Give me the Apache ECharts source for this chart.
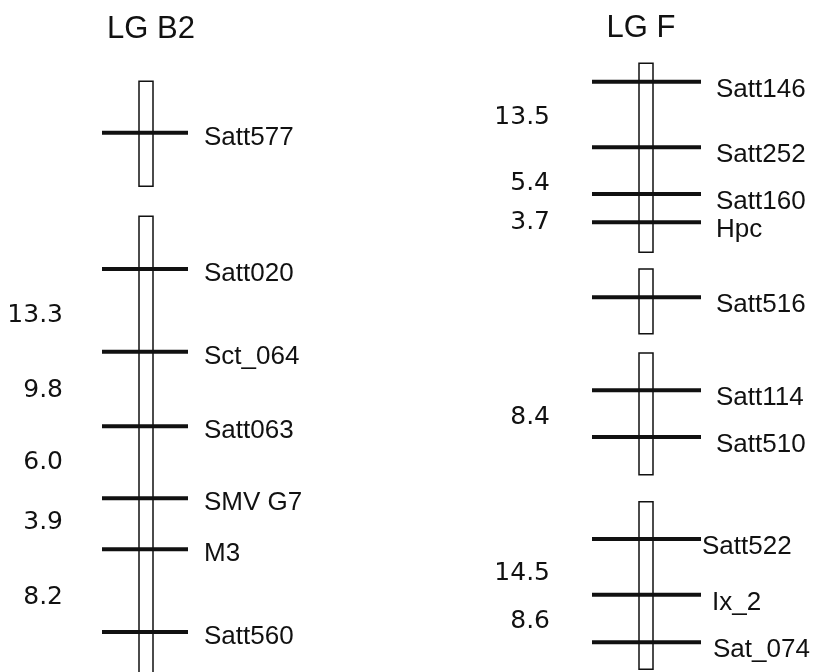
<!DOCTYPE html>
<html>
<head>
<meta charset="utf-8">
<script src="https://cdn.jsdelivr.net/npm/echarts@6/dist/echarts.min.js"></script>
<style>
  html, body { margin: 0; padding: 0; background: #fff; }
  #chart { width: 816px; height: 672px; }
</style>
</head>
<body>
<div id="chart"></div>
<script>
// linkage groups
const groups = ['LG B2', 'LG F'];

// LG B2 (map position, top = 0)
const b2Segments = [[3.2, 20.7], [25.7, 106]];
const b2Markers = ['Satt577', 'Satt020', 'Sct_064', 'Satt063', 'SMV G7', 'M3', 'Satt560'];
const b2MarkerPos = [11.8, 34.5, 48.3, 60.7, 72.7, 81.2, 95.0];
const b2Distances = ['13.3', '9.8', '6.0', '3.9', '8.2'];
const b2DistancePos = [42.2, 54.7, 66.7, 76.8, 89.2];

// LG F
const fSegments = [[0.2, 31.7], [34.5, 45.3], [48.5, 68.8], [73.3, 101.2]];
const fMarkers = ['Satt146', 'Satt252', 'Satt160', 'Hpc', 'Satt516', 'Satt114', 'Satt510', 'Satt522', 'Ix_2', 'Sat_074'];
const fMarkerPos = [3.3, 14.2, 22.0, 26.7, 39.2, 54.7, 62.5, 79.5, 88.8, 96.7];
const fDistances = ['13.5', '5.4', '3.7', '8.4', '14.5', '8.6'];
const fDistancePos = [9.3, 20.2, 26.7, 59.2, 85.2, 93.3];

// drawing styles per group (pixels)
const groupStyle = [
  { half: 7, lineL: -44, lineR: 42, labelX: 58, labelDy: 5, distX: -83 },
  { half: 7, lineL: -54, lineR: 55, labelX: 70, labelDy: 8, distX: -96 }
];
const labelShift = { 'Satt522': -14, 'Ix_2': -4, 'Sat_074': -3 };
const FONT = '"Liberation Sans", Arial, sans-serif';
const NUM_FONT = '"DejaVu Sans", sans-serif';

const segData = [];
b2Segments.forEach(s => segData.push([0, s[0], s[1]]));
fSegments.forEach(s => segData.push([1, s[0], s[1]]));

const markerData = [];
b2Markers.forEach((m, i) => markerData.push([0, b2MarkerPos[i], m]));
fMarkers.forEach((m, i) => markerData.push([1, fMarkerPos[i], m]));

const distData = [];
b2Distances.forEach((d, i) => distData.push([0, b2DistancePos[i], d]));
fDistances.forEach((d, i) => distData.push([1, fDistancePos[i], d]));

const chart = echarts.init(document.getElementById('chart'));

chart.setOption({
  backgroundColor: '#ffffff',
  animation: false,
  title: [
    { text: groups[0], left: 146, top: 9, textAlign: 'center',
      textStyle: { fontFamily: FONT, fontSize: 31, fontWeight: 'normal', color: '#111' } },
    { text: groups[1], left: 636, top: 8, textAlign: 'center',
      textStyle: { fontFamily: FONT, fontSize: 31, fontWeight: 'normal', color: '#111' } }
  ],
  grid: { left: 146, right: 170, top: 62, bottom: 10 },
  xAxis: { type: 'category', data: groups, boundaryGap: false, show: false },
  yAxis: { type: 'value', min: 0, max: 100, inverse: true, show: false },
  series: [
    {
      type: 'custom',
      data: segData,
      encode: { x: 0, y: [1, 2] },
      renderItem: function (params, api) {
        const g = api.value(0);
        const st = groupStyle[g];
        const p1 = api.coord([g, api.value(1)]);
        const p2 = api.coord([g, api.value(2)]);
        return {
          type: 'rect',
          shape: { x: p1[0] - st.half, y: p1[1], width: st.half * 2, height: p2[1] - p1[1] },
          style: { fill: '#fff', stroke: '#111', lineWidth: 1.5 }
        };
      }
    },
    {
      type: 'custom',
      data: markerData,
      encode: { x: 0, y: 1 },
      renderItem: function (params, api) {
        const g = api.value(0);
        const name = markerData[params.dataIndex][2];
        const st = groupStyle[g];
        const p = api.coord([g, api.value(1)]);
        return {
          type: 'group',
          children: [
            {
              type: 'line',
              shape: { x1: p[0] + st.lineL, y1: p[1], x2: p[0] + st.lineR, y2: p[1] },
              style: { stroke: '#111', lineWidth: 4 }
            },
            {
              type: 'text',
              style: {
                x: p[0] + st.labelX + (labelShift[name] || 0),
                y: p[1] + st.labelDy,
                text: name,
                fill: '#111',
                fontFamily: FONT,
                fontSize: 26,
                align: 'left',
                verticalAlign: 'middle'
              }
            }
          ]
        };
      }
    },
    {
      type: 'custom',
      data: distData,
      encode: { x: 0, y: 1 },
      renderItem: function (params, api) {
        const g = api.value(0);
        const st = groupStyle[g];
        const p = api.coord([g, api.value(1)]);
        return {
          type: 'text',
          style: {
            x: p[0] + st.distX,
            y: p[1],
            text: distData[params.dataIndex][2],
            fill: '#111',
            fontFamily: NUM_FONT,
            fontSize: 25,
            align: 'right',
            verticalAlign: 'middle'
          }
        };
      }
    }
  ]
});
</script>
</body>
</html>
